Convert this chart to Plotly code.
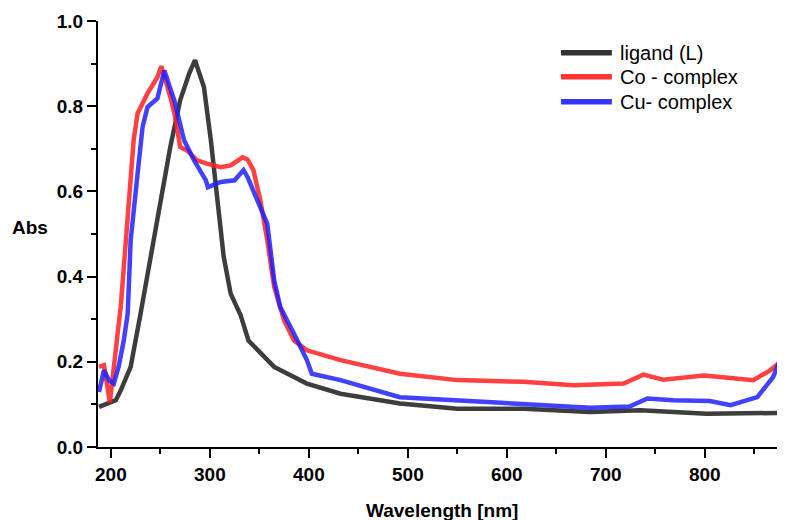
import plotly.graph_objects as go

# UV-Vis spectra
ligand_wl = [188, 200, 205, 210, 220, 230, 240, 250, 260, 270, 279, 285, 294, 301, 308, 314, 321, 331, 339, 345, 365, 398, 432, 492, 550, 617, 684, 735, 760, 802, 876]
ligand_abs = [0.094, 0.105, 0.11, 0.133, 0.188, 0.313, 0.446, 0.579, 0.704, 0.814, 0.876, 0.908, 0.845, 0.72, 0.579, 0.446, 0.36, 0.31, 0.25, 0.235, 0.188, 0.149, 0.125, 0.102, 0.09, 0.09, 0.082, 0.086, 0.083, 0.078, 0.08]

co_wl = [188, 193, 199, 203, 207, 210, 217, 223, 227, 237, 247, 251, 260, 265, 270, 277, 287, 297, 311, 321, 333, 338, 344, 351, 358, 365, 375, 385, 398, 432, 492, 550, 617, 667, 718, 738, 758, 799, 818, 849, 866, 880]
co_abs = [0.188, 0.192, 0.105, 0.2, 0.27, 0.33, 0.548, 0.72, 0.783, 0.83, 0.868, 0.894, 0.822, 0.775, 0.704, 0.696, 0.673, 0.665, 0.657, 0.661, 0.68, 0.675, 0.65, 0.579, 0.485, 0.376, 0.297, 0.25, 0.227, 0.204, 0.172, 0.157, 0.153, 0.145, 0.149, 0.17, 0.158, 0.168, 0.164, 0.157, 0.18, 0.207]

cu_wl = [188, 193, 198, 203, 208, 213, 217, 220, 227, 232, 237, 247, 254, 264, 274, 284, 296, 298, 311, 325, 334, 338, 348, 358, 365, 371, 385, 398, 403, 432, 492, 550, 617, 684, 724, 742, 768, 805, 826, 853, 869, 880]
cu_abs = [0.129, 0.18, 0.157, 0.149, 0.19, 0.25, 0.313, 0.485, 0.642, 0.751, 0.798, 0.818, 0.884, 0.814, 0.72, 0.673, 0.626, 0.61, 0.622, 0.626, 0.65, 0.634, 0.579, 0.524, 0.391, 0.329, 0.266, 0.204, 0.172, 0.157, 0.117, 0.11, 0.102, 0.092, 0.095, 0.114, 0.11, 0.108, 0.098, 0.117, 0.164, 0.227]

series = [
    ("ligand (L)", ligand_wl, ligand_abs, "#1c1c1c"),
    ("Co - complex", co_wl, co_abs, "#ff2020"),
    ("Cu- complex", cu_wl, cu_abs, "#2020ff"),
]

font = "Arial, Liberation Sans, sans-serif"

fig = go.Figure()
for name, x, y, color in series:
    fig.add_trace(go.Scatter(
        x=x, y=y, name=name, mode="lines",
        line=dict(color=color, width=4.5),
        opacity=0.85, showlegend=False,
    ))

# legend drawn by hand so row spacing and sample length match
legend_rows = [0.9256, 0.8693, 0.8106]
for (name, _, _, color), ly in zip(series, legend_rows):
    fig.add_shape(type="line", xref="paper", yref="paper",
                  x0=0.674, x1=0.748, y0=ly, y1=ly,
                  line=dict(color=color, width=5.5), opacity=0.9)
    fig.add_annotation(text=name, xref="paper", yref="paper", x=0.757, y=ly,
                       xanchor="left", yanchor="middle", showarrow=False,
                       font=dict(family=font, size=20, color="black"))

axis_common = dict(
    showline=True, linecolor="black", linewidth=2,
    ticks="outside", ticklen=9, tickwidth=2, tickcolor="black",
    showgrid=False, zeroline=False, mirror=False,
    tickfont=dict(family=font, size=19, color="black", weight="bold"),
)

fig.update_xaxes(
    range=[187, 881], tickmode="array", tickvals=[200, 300, 400, 500, 600, 700, 800],
    minor=dict(ticks="outside", ticklen=5, tickwidth=2, tickcolor="black", dtick=50, tick0=150),
    **axis_common,
)
fig.update_yaxes(
    range=[0, 1.0], tickmode="array", tickvals=[0, 0.2, 0.4, 0.6, 0.8, 1.0], tickformat=".1f",
    minor=dict(ticks="outside", ticklen=5, tickwidth=2, tickcolor="black", dtick=0.1, tick0=0),
    **axis_common,
)

fig.add_annotation(
    text="Abs", xref="paper", yref="paper", x=-0.099, y=0.516,
    showarrow=False, xanchor="center", yanchor="middle",
    font=dict(family=font, size=19, color="black", weight="bold"),
)
fig.add_annotation(
    text="Wavelength [nm]", xref="paper", yref="paper", x=0.5, y=-0.148,
    showarrow=False, xanchor="center", yanchor="middle",
    font=dict(family=font, size=19, color="black", weight="bold"),
)

# the page body adds an 8px margin, so the figure is 8px smaller each way
fig.update_layout(
    width=777, height=512,
    margin=dict(l=90, r=0, t=13, b=73, autoexpand=False),
    plot_bgcolor="white", paper_bgcolor="white",
    showlegend=False,
)

fig.write_html("out.html")
